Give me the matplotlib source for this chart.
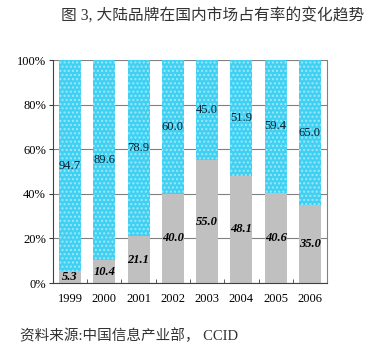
import numpy as np
import matplotlib.pyplot as plt

plt.rcParams['font.family'] = ['Liberation Serif', 'Noto Sans CJK SC']
plt.rcParams['hatch.linewidth'] = 1.0

years = ['1999', '2000', '2001', '2002', '2003', '2004', '2005', '2006']
mainland = [5.3, 10.4, 21.1, 40.0, 55.0, 48.1, 40.6, 35.0]
others = [94.7, 89.6, 78.9, 60.0, 45.0, 51.9, 59.4, 65.0]
yticks = [0, 20, 40, 60, 80, 100]

fig = plt.figure(figsize=(3.83, 3.53), dpi=100)
ax = fig.add_axes([0.138, 0.198, 0.716, 0.632])

x = np.arange(len(years))
w = 0.64
ax.bar(x, mainland, w, color='#c0c0c0', zorder=2)
ax.bar(x, others, w, bottom=mainland, color='#3fd0f2', edgecolor='#9fe8fb',
       hatch='....', linewidth=0, zorder=2)

for i in range(len(years)):
    ax.text(x[i], mainland[i] / 2, f'{mainland[i]:.1f}', ha='center', va='center',
            fontsize=9, fontweight='bold', style='italic', color='black', zorder=3)
    ax.text(x[i], mainland[i] + others[i] / 2, f'{others[i]:.1f}', ha='center',
            va='center', fontsize=9, color='#06202e', zorder=3)

ax.set_xlim(-0.5, len(years) - 0.5)
ax.set_ylim(0, 100)
ax.set_yticks(yticks)
ax.set_yticklabels([f'{v}%' for v in yticks], fontsize=9)
ax.yaxis.grid(True, color='#808080', linewidth=0.8, zorder=0)
ax.set_axisbelow(True)

ax.set_xticks(x)
ax.set_xticklabels(years, fontsize=9)
ax.tick_params(axis='x', which='major', length=0, pad=7)
ax.set_xticks(np.arange(0.5, len(years) - 0.5, 1), minor=True)
ax.tick_params(axis='x', which='minor', direction='in', length=3, color='#404040')
ax.tick_params(axis='y', length=3, color='#404040', pad=2)

ax.spines['top'].set_visible(False)
ax.spines['right'].set_color('#808080')
ax.spines['left'].set_color('#404040')
ax.spines['bottom'].set_color('#404040')

fig.text(0.556, 0.952, '图 3, 大陆品牌在国内市场占有率的变化趋势', ha='center',
         va='center', fontsize=11.3, color='#333333')
fig.text(0.052, 0.05, '资料来源:中国信息产业部， CCID', ha='left', va='center',
         fontsize=10.5, color='#333333')

fig.savefig('out.png', dpi=100)
